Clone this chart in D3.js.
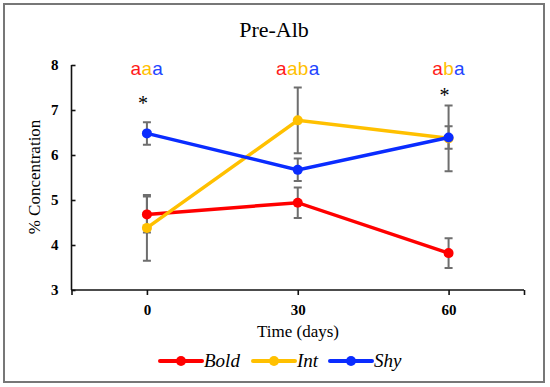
<!DOCTYPE html>
<html>
<head>
<meta charset="utf-8">
<script src="https://cdn.jsdelivr.net/npm/d3@7"></script>
<style>
  body { margin: 0; background: #fff; }
  svg text { font-family: "Liberation Serif", "Times New Roman", serif; }
  svg text.sig { font-family: "Liberation Sans", Arial, sans-serif; }
</style>
</head>
<body>
<svg id="chart" width="550" height="387"></svg>
<script>
// data
const days = [0, 30, 60];
const bold = [4.68, 4.94, 3.82];
const boldErr = [0.40, 0.34, 0.33];
const intr = [4.38, 6.77, 6.37];
const intErr = [0.73, 0.73, 0.73];
const shy = [6.48, 5.67, 6.39];
const shyErr = [0.25, 0.25, 0.25];
const yTicks = [3, 4, 5, 6, 7, 8];
const xTicks = [0, 30, 60];
// significance letters per time point, one colour per group
const letters = [
  [['a', 'bold'], ['a', 'int'], ['a', 'shy']],
  [['a', 'bold'], ['a', 'int'], ['b', 'int'], ['a', 'shy']],
  [['a', 'bold'], ['b', 'int'], ['a', 'shy']]
];
const stars = [{ day: 0, v: 7.25 }, { day: 60, v: 7.42 }];

const colors = { bold: '#ff0000', int: '#ffc000', shy: '#0a2cff' };
const letterColors = { bold: '#ff1a1a', int: '#ffc000', shy: '#2244ff' };

const series = [
  { key: 'bold', name: 'Bold', values: bold, err: boldErr },
  { key: 'int', name: 'Int', values: intr, err: intErr },
  { key: 'shy', name: 'Shy', values: shy, err: shyErr }
];

const svg = d3.select('#chart');

// outer frame
svg.append('rect')
  .attr('x', 4).attr('y', 4)
  .attr('width', 540).attr('height', 378)
  .attr('fill', 'none')
  .attr('stroke', '#777')
  .attr('stroke-width', 2);

const x = d3.scaleLinear().domain([-15, 75]).range([71.5, 524]);
const y = d3.scaleLinear().domain([3, 8]).range([290, 65]);

svg.append('text')
  .attr('x', 274).attr('y', 37)
  .attr('text-anchor', 'middle')
  .attr('font-size', 22)
  .text('Pre-Alb');

// y axis, ticks pointing inwards
const yAxis = svg.append('g')
  .attr('transform', 'translate(71.5,0)')
  .call(d3.axisRight(y).tickValues(yTicks).tickSize(4).tickFormat(d3.format('d')));
yAxis.select('.domain').attr('stroke-width', 1.6).attr('d', 'M0,65V290');
yAxis.selectAll('.tick line').attr('stroke-width', 1.6);
yAxis.selectAll('.tick text')
  .attr('x', -13).attr('text-anchor', 'end')
  .attr('font-size', 15).attr('font-weight', 'bold');

// x axis
const xAxis = svg.append('g')
  .attr('transform', 'translate(0,290)')
  .call(d3.axisBottom(x).tickValues([-15].concat(xTicks, [75])).tickSize(5)
    .tickFormat(d => xTicks.includes(d) ? d : ''));
xAxis.select('.domain').attr('stroke-width', 1.6).attr('d', 'M71.5,0H524');
xAxis.selectAll('.tick line').attr('stroke-width', 1.6);
xAxis.selectAll('.tick text')
  .attr('y', 14)
  .attr('font-size', 15).attr('font-weight', 'bold');
svg.selectAll('.domain, .tick line').attr('stroke', '#111');

svg.append('text')
  .attr('transform', 'translate(40,177)rotate(-90)')
  .attr('text-anchor', 'middle')
  .attr('font-size', 17)
  .text('% Concentration');

svg.append('text')
  .attr('x', 298).attr('y', 337)
  .attr('text-anchor', 'middle')
  .attr('font-size', 17)
  .text('Time (days)');

// error bars
const errG = svg.append('g');
series.forEach(s => {
  days.forEach((d, i) => {
    const cx = x(d);
    const lo = y(s.values[i] - s.err[i]);
    const hi = y(s.values[i] + s.err[i]);
    errG.append('path')
      .attr('d', `M${cx},${lo}V${hi}M${cx - 4},${lo}H${cx + 4}M${cx - 4},${hi}H${cx + 4}`)
      .attr('stroke', '#6e6e6e')
      .attr('stroke-width', 2)
      .attr('fill', 'none');
  });
});

// lines and markers
const line = d3.line()
  .x((v, i) => x(days[i]))
  .y(v => y(v));

series.forEach(s => {
  svg.append('path')
    .attr('d', line(s.values))
    .attr('stroke', colors[s.key])
    .attr('stroke-width', 3.5)
    .attr('fill', 'none');
  svg.selectAll(null)
    .data(s.values)
    .join('circle')
    .attr('cx', (v, i) => x(days[i]))
    .attr('cy', v => y(v))
    .attr('r', 5)
    .attr('fill', colors[s.key]);
});

// significance letters
letters.forEach((group, i) => {
  const t = svg.append('text')
    .attr('class', 'sig')
    .attr('x', x(days[i]))
    .attr('y', 75)
    .attr('text-anchor', 'middle')
    .attr('font-size', 19)
    .attr('letter-spacing', 0.3);
  group.forEach(([ch, key]) => {
    t.append('tspan').attr('fill', letterColors[key]).text(ch);
  });
});

stars.forEach(s => {
  svg.append('text')
    .attr('x', x(s.day) - 4)
    .attr('y', y(s.v) + 11)
    .attr('text-anchor', 'middle')
    .attr('font-size', 20)
    .text('*');
});

// legend
const legendItems = [
  { key: 'bold', name: 'Bold', x0: 160 },
  { key: 'int', name: 'Int', x0: 253 },
  { key: 'shy', name: 'Shy', x0: 330 }
];
const ly = 361;
legendItems.forEach(it => {
  svg.append('line')
    .attr('x1', it.x0).attr('x2', it.x0 + 42)
    .attr('y1', ly).attr('y2', ly)
    .attr('stroke', colors[it.key])
    .attr('stroke-width', 4)
    .attr('stroke-linecap', 'round');
  svg.append('circle')
    .attr('cx', it.x0 + 21).attr('cy', ly).attr('r', 5)
    .attr('fill', colors[it.key]);
  svg.append('text')
    .attr('x', it.x0 + 44).attr('y', ly + 6)
    .attr('font-size', 19)
    .attr('font-style', 'italic')
    .text(it.name);
});
</script>
</body>
</html>
